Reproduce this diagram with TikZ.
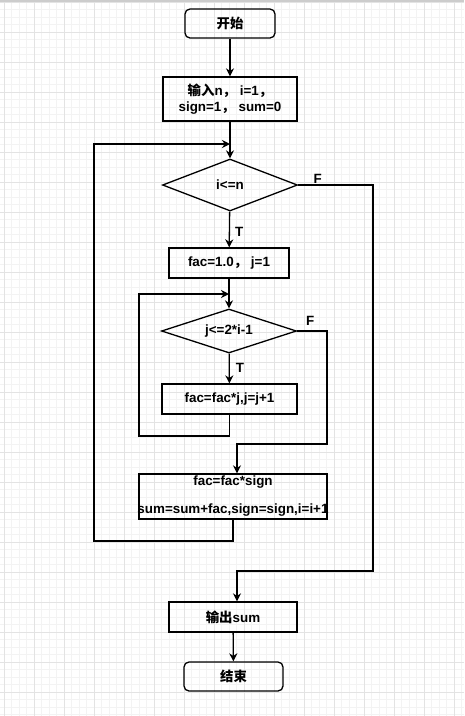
\documentclass[tikz,border=0pt]{standalone}
\usepackage{fontspec}
\setmainfont{Liberation Sans}
\newfontfamily\cjk{Noto Sans CJK SC}
\usetikzlibrary{arrows.meta,shapes.geometric}

\definecolor{gridminor}{HTML}{F3F3F3}
\definecolor{gridmajor}{HTML}{E3E3E3}

\tikzset{
  flowline/.style={line width=1.3pt, draw=black},
  flowarrow/.style={flowline, -{Stealth[length=8pt,width=8pt]}},
  box/.style={draw=black, line width=1.3pt, rectangle, inner sep=0pt, align=center,
    font=\bfseries\fontsize{13.4}{16}\selectfont},
  terminal/.style={box, rounded corners=5pt},
  decision/.style={box, diamond, aspect=2.5},
  tf/.style={font=\bfseries\fontsize{13.4}{16}\selectfont, inner sep=0pt},
}

\begin{document}
\begin{tikzpicture}[x=1pt, y=-1pt]
		\useasboundingbox (0,0) rectangle (464,716);
		\fill[white] (0,0) rectangle (464,716);
		% grid
		\foreach \gx in {4,11.5,...,464} \draw[gridminor, line width=0.8pt] (\gx,0) -- (\gx,716);
		\foreach \gy in {2,9.5,...,716} \draw[gridminor, line width=0.8pt] (0,\gy) -- (464,\gy);
		\foreach \gx in {4,34,...,464} \draw[gridmajor, line width=1pt] (\gx,0) -- (\gx,716);
		\foreach \gy in {2,32,...,716} \draw[gridmajor, line width=1pt] (0,\gy) -- (464,\gy);
		\draw[line width=2pt, black!20] (0,1) -- (464,1);

		\node[terminal, minimum width=90, minimum height=29]  (start)  at (230,23.5) {{\cjk 开始}};
		\node[box, minimum width=134, minimum height=44]      (input)  at (230,99)   {{\cjk 输入}n{\cjk ，} i=1{\cjk ，}\\sign=1{\cjk ，} sum=0};
		\node[decision, minimum width=135, minimum height=52] (cond1)  at (230,185)  {i<=n};
		\node[box, minimum width=120, minimum height=30]      (init)   at (229,263)  {fac=1.0{\cjk ，} j=1};
		\node[decision, minimum width=135, minimum height=44] (cond2)  at (229,331)  {j<=2*i-1};
		\node[box, minimum width=135, minimum height=30]      (body)   at (229.5,399) {fac=fac*j,j=j+1};
		\node[box, minimum width=188, minimum height=45]      (update) at (233,496.5) {\makebox[0pt]{fac=fac*sign}\\[12pt]\makebox[0pt]{sum=sum+fac,sign=sign,i=i+1}};
		\node[box, minimum width=128, minimum height=30]      (output) at (233,617)  {{\cjk 输出}sum};
		\node[terminal, minimum width=99, minimum height=29]  (stop)   at (233.5,676.5) {{\cjk 结束}};

		\coordinate (outerin)   at (230,144);
		\coordinate (outerleft) at (94,541);
		\coordinate (innerin)   at (229,294);
		\coordinate (innerleft) at (139,436);
		\coordinate (exitin)    at (327,444);
		\coordinate (exitout)   at (373,571);

		\draw[flowarrow] (start) -- (input);
		\draw[flowarrow] (input) -- (cond1);
		\draw[flowarrow] (cond1) -- node[tf, pos=0.58, right=5pt] {T} (init);
		\draw[flowarrow] (init) -- (cond2);
		\draw[flowarrow] (cond2) -- node[tf, pos=0.47, right=6pt] {T} (body);
		\draw[flowarrow] (body.south) |- (innerleft) |- (innerin);
		\draw[flowarrow] (cond2.east) -| node[tf, pos=0.22, above=5pt] {F} (exitin) -| ([xshift=4pt]update.north);
		\draw[flowarrow] (update.south) |- (outerleft) |- (outerin);
		\draw[flowarrow] (cond1.east) -| node[tf, pos=0.13, above=1pt] {F} (exitout) -| ([xshift=4pt]output.north);
		\draw[flowarrow] (output) -- (stop);

	\end{tikzpicture}
\end{document}
